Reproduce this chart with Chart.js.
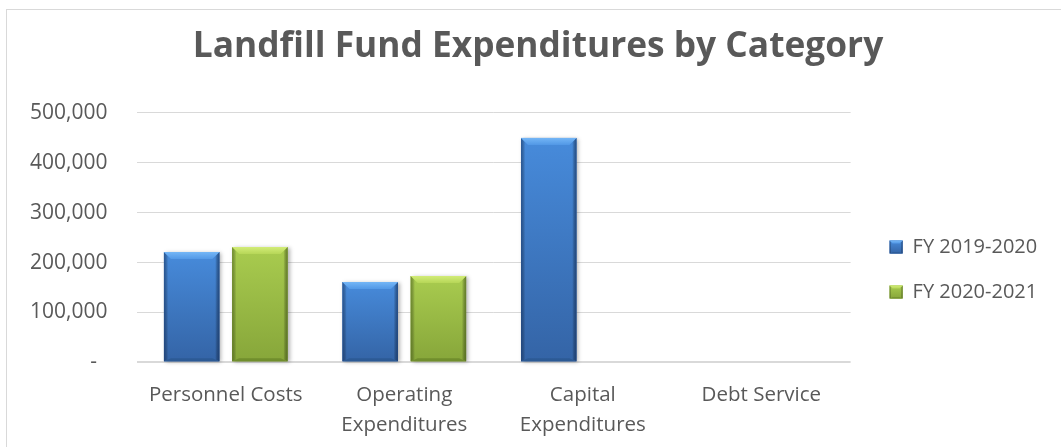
<!DOCTYPE html>
<html>
<head>
<meta charset="utf-8">
<title>Landfill Fund Expenditures by Category</title>
<script src="https://cdn.jsdelivr.net/npm/chart.js@4/dist/chart.umd.min.js"></script>
<style>
  html, body { margin: 0; padding: 0; background: #ffffff; overflow: hidden; }
  body { width: 1061px; height: 447px; position: relative; font-family: "Open Sans", sans-serif; }
  #frame {
    position: absolute; left: 6px; top: 9px; width: 1200px; height: 600px;
    border-left: 1px solid #d9d9d9; border-top: 1px solid #d9d9d9; box-sizing: border-box;
  }
  #wrap { position: absolute; left: 8px; top: 10px; width: 1060px; height: 519px; }
</style>
</head>
<body>
<div id="frame"></div>
<div id="wrap"><canvas id="chart"></canvas></div>
<script>
// Categories, series and axis settings
const categories = ['Personnel Costs', ['Operating', 'Expenditures'], ['Capital', 'Expenditures'], 'Debt Service'];
const seriesNames = ['FY 2019-2020', 'FY 2020-2021'];
const fy2019_2020 = [221000, 161000, 450000, 0];
const fy2020_2021 = [231000, 173000, 0, 0];
const yMax = 500000;
const yStep = 100000;

const TEXT = '#595959';
const FONT = '"Open Sans", "Noto Sans", sans-serif';

// Bevelled fill palettes for the two series
const palettes = [
  { flat: '#3e78c4', face: ['#478bdb', '#3464a6'], top: ['#74b6f6', '#5298e6'], bottom: '#2b5892', edge: 'rgba(20,48,95,0.55)', edgeR: 'rgba(20,48,95,0.65)' },
  { flat: '#98b944', face: ['#a9cc4f', '#87a63a'], top: ['#d2ec78', '#b6d657'], bottom: '#6c8a2a', edge: 'rgba(60,80,20,0.5)', edgeR: 'rgba(60,80,20,0.6)' }
];

function poly(ctx, pts) {
  ctx.beginPath();
  ctx.moveTo(pts[0][0], pts[0][1]);
  for (let i = 1; i < pts.length; i++) ctx.lineTo(pts[i][0], pts[i][1]);
  ctx.closePath();
}

function paintBevel(ctx, L, T, R, B, pal, size, shadow) {
  const w = R - L, h = B - T;
  if (w < 1 || h < 1) return;
  const b = Math.min(size, w / 2, h / 2);
  const bb = Math.min(b * 0.45, h / 4);
  ctx.save();
  if (shadow) {
    ctx.shadowColor = 'rgba(0,0,0,0.3)';
    ctx.shadowBlur = 4;
    ctx.shadowOffsetX = 2;
    ctx.shadowOffsetY = 1;
  }
  const gf = ctx.createLinearGradient(0, T, 0, B);
  gf.addColorStop(0, pal.face[0]);
  gf.addColorStop(1, pal.face[1]);
  ctx.fillStyle = gf;
  ctx.fillRect(L, T, w, h);
  ctx.restore();

  ctx.save();
  // left face
  const gl = ctx.createLinearGradient(L, 0, L + b * 0.6, 0);
  gl.addColorStop(0, pal.edge);
  gl.addColorStop(1, 'rgba(0,0,0,0)');
  poly(ctx, [[L, T], [L + b, T + b], [L + b, B - bb], [L, B]]);
  ctx.fillStyle = gl;
  ctx.fill();
  // right face
  const gr = ctx.createLinearGradient(R, 0, R - b * 0.6, 0);
  gr.addColorStop(0, pal.edgeR);
  gr.addColorStop(1, 'rgba(0,0,0,0)');
  poly(ctx, [[R, T], [R - b, T + b], [R - b, B - bb], [R, B]]);
  ctx.fillStyle = gr;
  ctx.fill();
  // bottom face
  poly(ctx, [[L, B], [L + b, B - bb], [R - b, B - bb], [R, B]]);
  ctx.fillStyle = pal.bottom;
  ctx.globalAlpha = 0.85;
  ctx.fill();
  ctx.globalAlpha = 1;
  // top face
  const gt = ctx.createLinearGradient(0, T, 0, T + b);
  gt.addColorStop(0, pal.top[0]);
  gt.addColorStop(1, pal.top[1]);
  poly(ctx, [[L, T], [R, T], [R - b, T + b], [L + b, T + b]]);
  ctx.fillStyle = gt;
  ctx.fill();
  ctx.restore();
}

// Paints the bevel look over bars and legend swatches
const bevelPlugin = {
  id: 'bevel',
  afterDatasetsDraw(chart) {
    const ctx = chart.ctx;
    ctx.save();
    chart.data.datasets.forEach((ds, di) => {
      const meta = chart.getDatasetMeta(di);
      if (meta.hidden) return;
      meta.data.forEach(el => {
        const p = el.getProps(['x', 'y', 'base', 'width'], true);
        const L = p.x - p.width / 2, R = p.x + p.width / 2;
        const T = Math.min(p.y, p.base), B = Math.max(p.y, p.base);
        paintBevel(ctx, L, T, R, B, palettes[di], 7, true);
      });
    });
    ctx.restore();
  },
  afterDraw(chart) {
    const lg = chart.legend;
    if (!lg || !lg.legendHitBoxes) return;
    const opts = lg.options.labels;
    const bw = opts.boxWidth, bh = opts.boxHeight, fs = opts.font.size;
    lg.legendHitBoxes.forEach((hb, i) => {
      const x = hb.left, y = hb.top + Math.max((fs - bh) / 2, 0);
      paintBevel(chart.ctx, x, y, x + bw, y + bh, palettes[i], 3, false);
    });
  }
};

function buildChart() {
  const ctx = document.getElementById('chart').getContext('2d');
  new Chart(ctx, {
    type: 'bar',
    data: {
      labels: categories,
      datasets: [
        { label: seriesNames[0], data: fy2019_2020, backgroundColor: palettes[0].flat, borderWidth: 0 },
        { label: seriesNames[1], data: fy2020_2021, backgroundColor: palettes[1].flat, borderWidth: 0 }
      ]
    },
    options: {
      responsive: true,
      maintainAspectRatio: false,
      animation: false,
      devicePixelRatio: 1,
      categoryPercentage: 0.764,
      barPercentage: 0.813,
      layout: { padding: 0 },
      plugins: {
        title: {
          display: true,
          text: 'Landfill Fund Expenditures by Category',
          color: TEXT,
          font: { family: FONT, size: 35.3, weight: 'bold', lineHeight: 1.2 },
          padding: { top: 16, bottom: 44.6 }
        },
        legend: {
          display: true,
          position: 'right',
          align: 'center',
          maxWidth: 260,
          labels: {
            color: TEXT,
            font: { family: FONT, size: 20 },
            boxWidth: 13,
            boxHeight: 13,
            padding: 25,
            // a little trailing room after each entry, like the right margin of the chart box
            generateLabels(chart) {
              return Chart.defaults.plugins.legend.labels.generateLabels(chart)
                .map(item => Object.assign(item, { text: item.text + '    ' }));
            }
          }
        },
        tooltip: { enabled: false }
      },
      scales: {
        x: {
          grid: { display: false },
          border: { display: false },
          ticks: {
            color: TEXT,
            font: { family: FONT, size: 20.5, lineHeight: 1.463 },
            padding: 10,
            maxRotation: 0,
            autoSkip: false
          },
          afterFit(s) { s.height = 166.7; }
        },
        y: {
          min: 0,
          max: yMax,
          border: { display: false },
          grid: {
            color: '#d9d9d9',
            lineWidth: c => (c.tick && c.tick.value === 0 ? 2 : 1),
            drawTicks: false
          },
          ticks: {
            stepSize: yStep,
            color: TEXT,
            font: { family: FONT, size: 21 },
            padding: 29,
            callback: v => (v === 0 ? '-\u2002' : v.toLocaleString('en-US'))
          },
          afterFit(s) { s.width = 128.5; }
        },
        gap: {
          type: 'linear',
          position: 'right',
          display: true,
          grid: { display: false },
          border: { display: false },
          ticks: { display: false },
          afterFit(s) { s.width = 14; }
        }
      }
    },
    plugins: [bevelPlugin]
  });
}

// Wait for the local faces so text is measured with the same font it is drawn in
Promise.all([
  document.fonts.load('20px "Open Sans"'),
  document.fonts.load('bold 35px "Open Sans"')
]).catch(() => {}).then(buildChart);
</script>
</body>
</html>
